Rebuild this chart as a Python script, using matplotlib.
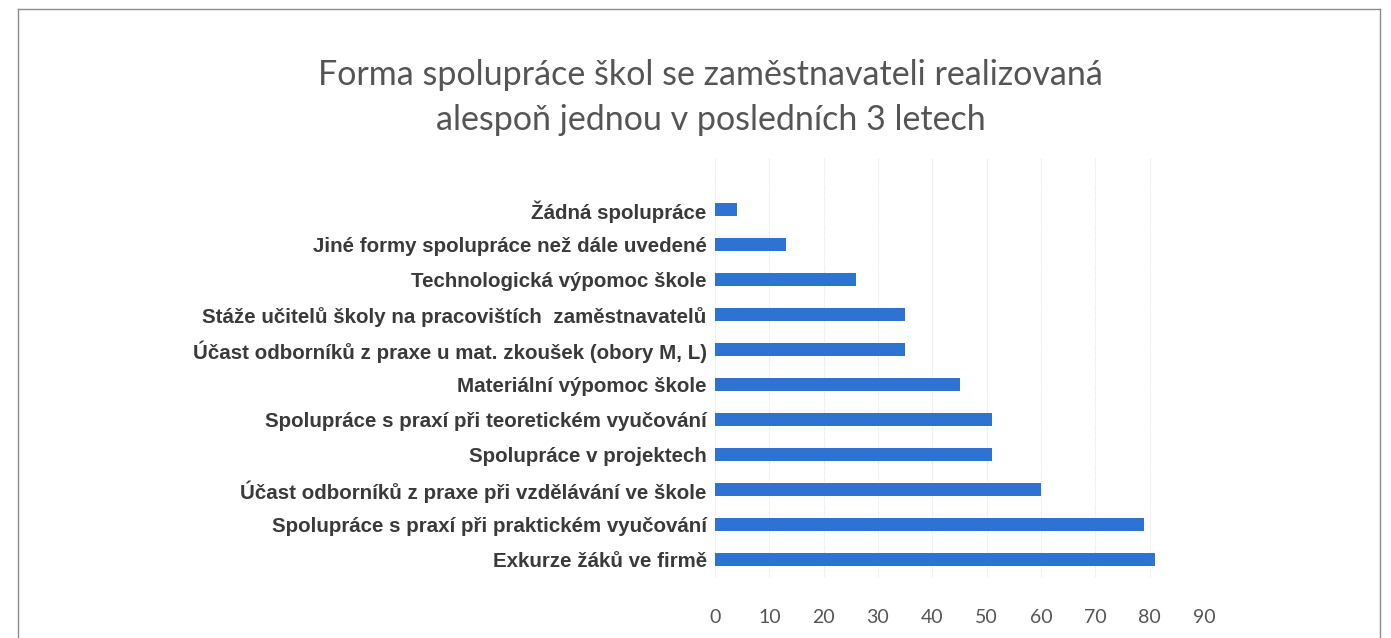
import matplotlib
matplotlib.use('Agg')
import matplotlib.pyplot as plt
from matplotlib.lines import Line2D

# kategorie odshora dolu
kategorie = [
    'Žádná spolupráce',
    'Jiné formy spolupráce než dále uvedené',
    'Technologická výpomoc škole',
    'Stáže učitelů školy na pracovištích  zaměstnavatelů',
    'Účast odborníků z praxe u mat. zkoušek (obory M, L)',
    'Materiální výpomoc škole',
    'Spolupráce s praxí při teoretickém vyučování',
    'Spolupráce v projektech',
    'Účast odborníků z praxe při vzdělávání ve škole',
    'Spolupráce s praxí při praktickém vyučování',
    'Exkurze žáků ve firmě',
]
hodnoty = [4, 13, 26, 35, 35, 45, 51, 51, 60, 79, 81]
ticky = [0, 10, 20, 30, 40, 50, 60, 70, 80, 90]

fig = plt.figure(figsize=(13.91, 6.38), dpi=100)
ax = fig.add_axes([0.514, 0.0956, 0.3516, 0.6583])

y = list(range(len(kategorie)))
ax.barh(y, hodnoty, height=0.35, color='#2F73D2', zorder=2)
ax.set_ylim(len(kategorie) - 0.5, -1.5)
ax.set_xlim(0, 90)
ax.set_xticks(ticky)
ax.set_yticks(y)
ax.set_yticklabels(kategorie, fontsize=14.8, fontweight='bold', color='#3a3a3a',
                   family=['Liberation Sans', 'DejaVu Sans'])
for t in ax.get_xticklabels():
    t.set_fontsize(14)
    t.set_color('#555555')
    t.set_family(['Lato', 'DejaVu Sans'])
ax.tick_params(axis='x', length=0, pad=23)
ax.tick_params(axis='y', length=0, pad=6)
ax.grid(axis='x', color='#e4e4e4', linewidth=0.8, linestyle=(0, (1, 1)), zorder=0)
for s in ax.spines.values():
    s.set_visible(False)

fig.text(0.511, 0.882, 'Forma spolupráce škol se zaměstnavateli realizovaná',
         ha='center', va='center', fontsize=24.5, color='#555555',
         family=['Lato', 'DejaVu Sans'])
fig.text(0.511, 0.812, 'alespoň jednou v posledních 3 letech',
         ha='center', va='center', fontsize=24.5, color='#555555',
         family=['Lato', 'DejaVu Sans'])

# ramecek grafu (spodni okraj je mimo obrazek)
ramecek = dict(color='#8c8c8c', linewidth=1.0, transform=fig.transFigure)
fig.add_artist(Line2D([18 / 1391, 1380 / 1391], [1 - 9 / 638, 1 - 9 / 638], **ramecek))
fig.add_artist(Line2D([18 / 1391, 18 / 1391], [0, 1 - 9 / 638], **ramecek))
fig.add_artist(Line2D([1380 / 1391, 1380 / 1391], [0, 1 - 9 / 638], **ramecek))

plt.savefig('out.png', dpi=100)
